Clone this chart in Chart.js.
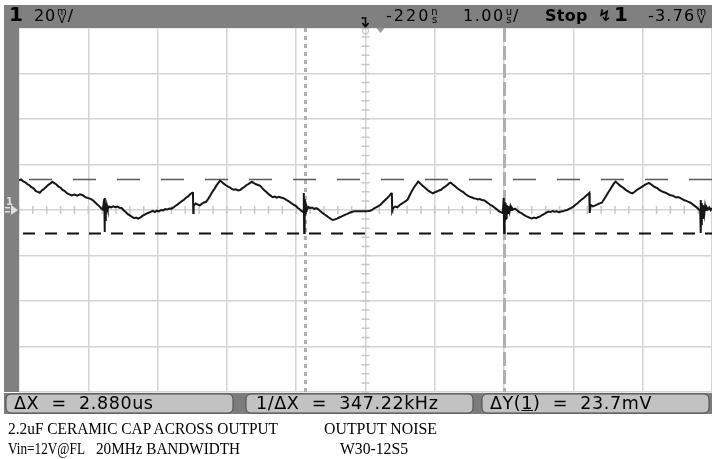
<!DOCTYPE html>
<html><head><meta charset="utf-8">
<script src="https://cdn.jsdelivr.net/npm/chart.js@4.4.0/dist/chart.umd.min.js"></script>
<style>
html,body{margin:0;padding:0;background:#fff;}
#wrap{position:relative;width:712px;height:459px;overflow:hidden;}
canvas{position:absolute;left:0;top:0;}
.t{position:absolute;white-space:nowrap;font-family:"DejaVu Sans",sans-serif;color:#000;}
.hd{top:7px;font-size:16px;line-height:18px;letter-spacing:0.8px;}
.stk{display:inline-flex;flex-direction:column;font-size:10px;line-height:8px;text-align:center;vertical-align:top;margin:1px 1px 0 1px;letter-spacing:0;}
.bx{top:394px;font-size:17.5px;line-height:19px;letter-spacing:0.6px;}
.note{font-family:"Liberation Serif",serif;font-size:17px;line-height:17px;transform-origin:0 0;}
</style></head>
<body><div id="wrap"><canvas id="c" width="712" height="459"></canvas>
<div class="t hd" style="left:9px;top:5px;font-size:20px;font-weight:bold;">1</div>
<div class="t hd" style="left:34px;">20<span class="stk"><span>m</span><span>V</span></span>/</div>
<div class="t hd" style="left:386px;letter-spacing:2px;">-220<span class="stk"><span>n</span><span>s</span></span></div>
<div class="t hd" style="left:463px;letter-spacing:1.5px;">1.00<span class="stk"><span>u</span><span>s</span></span>/</div>
<div class="t hd" style="left:545px;font-weight:bold;letter-spacing:0.3px;">Stop</div>
<div class="t hd" style="left:598px;font-weight:bold;">&#x21AF;</div>
<div class="t hd" style="left:614px;top:5px;font-size:20px;font-weight:bold;">1</div>
<div class="t hd" style="left:648px;letter-spacing:1.2px;">-3.76<span class="stk"><span>m</span><span>V</span></span></div>
<div class="t bx" style="left:14px;">&Delta;X&nbsp; = &nbsp;2.880us</div>
<div class="t bx" style="left:256px;">1/&Delta;X&nbsp; = &nbsp;347.22kHz</div>
<div class="t bx" style="left:490px;">&Delta;Y(<u>1</u>)&nbsp; = &nbsp;23.7mV</div>
<div class="t note" data-w="270" style="left:8px;top:420px;">2.2uF CERAMIC CAP ACROSS OUTPUT</div>
<div class="t note" data-w="113" style="left:324px;top:420px;">OUTPUT NOISE</div>
<div class="t note" data-w="77" style="left:8px;top:440px;">Vin=12V@FL</div>
<div class="t note" data-w="144" style="left:96px;top:440px;">20MHz BANDWIDTH</div>
<div class="t note" data-w="68" style="left:340px;top:440px;">W30-12S5</div>
</div>
<script>
// Time base: 1.00 us/div, 10 divisions; vertical: 20 mV/div, 8 divisions
const timeUs = [
-5.00,-4.97,-4.94,-4.91,-4.88,-4.85,-4.82,-4.79,-4.76,-4.73,-4.70,-4.67,-4.64,-4.61,-4.58,-4.55,-4.52,-4.49,-4.46,-4.43,-4.40,-4.37,-4.34,-4.31,-4.28,-4.24,-4.20,-4.16,-4.12,-4.08,-4.04,-4.00,-3.96,-3.93,-3.90,-3.87,-3.84,-3.81,-3.79,
-3.770,-3.765,-3.760,-3.755,-3.750,-3.745,-3.740,-3.735,-3.730,
-3.72,-3.70,-3.67,-3.64,-3.61,-3.58,-3.55,-3.52,-3.49,-3.46,-3.43,-3.40,-3.37,-3.34,-3.31,-3.28,-3.25,-3.22,-3.19,-3.16,-3.13,-3.10,-3.07,-3.04,-3.01,-2.98,-2.95,-2.92,-2.89,-2.86,-2.83,-2.80,-2.77,-2.74,-2.71,-2.68,-2.65,-2.62,-2.59,-2.56,-2.53,-2.50,-2.49,
-2.485,-2.48,-2.45,-2.42,-2.39,-2.36,-2.33,-2.30,-2.27,-2.24,-2.21,-2.18,-2.15,-2.12,-2.10,-2.08,-2.05,-2.02,-1.99,-1.96,-1.93,-1.90,-1.87,-1.84,-1.81,-1.78,-1.75,-1.72,-1.69,-1.66,-1.64,-1.61,-1.58,-1.55,-1.52,-1.49,-1.46,-1.43,-1.40,-1.37,-1.34,-1.31,-1.28,-1.25,-1.22,-1.19,-1.16,-1.13,-1.10,-1.07,-1.04,-1.01,-0.98,-0.95,-0.92,-0.90,
-0.890,-0.885,-0.880,-0.875,-0.870,-0.865,-0.860,-0.855,-0.850,
-0.84,-0.82,-0.80,-0.77,-0.74,-0.71,-0.68,-0.65,-0.62,-0.59,-0.56,-0.53,-0.50,-0.47,-0.44,-0.41,-0.38,-0.35,-0.32,-0.29,-0.26,-0.23,-0.20,-0.16,-0.12,-0.08,-0.04,0.00,0.04,0.07,0.10,0.13,0.16,0.19,0.22,0.25,0.28,0.31,0.34,0.37,0.38,
0.385,0.40,0.43,0.46,0.49,0.52,0.55,0.58,0.61,0.64,0.67,0.70,0.73,0.76,0.79,0.82,0.85,0.88,0.91,0.94,0.97,1.00,1.03,1.06,1.09,1.12,1.15,1.18,1.21,1.23,1.26,1.29,1.32,1.35,1.38,1.41,1.44,1.47,1.50,1.53,1.56,1.59,1.62,1.65,1.68,1.71,1.74,1.77,1.80,1.83,1.86,1.89,1.92,1.95,1.98,
1.995,2.000,2.005,2.010,2.015,2.020,2.025,2.030,2.035,2.040,2.050,2.060,2.070,2.080,2.090,2.100,2.110,
2.13,2.16,2.19,2.22,2.25,2.28,2.31,2.34,2.37,2.40,2.43,2.46,2.49,2.52,2.55,2.58,2.61,2.64,2.67,2.70,2.73,2.76,2.79,2.82,2.85,2.88,2.91,2.94,2.97,3.00,3.03,3.06,3.09,3.12,3.15,3.18,3.21,3.23,
3.235,3.25,3.28,3.31,3.34,3.37,3.41,3.44,3.47,3.50,3.53,3.56,3.59,3.61,3.64,3.67,3.70,3.73,3.76,3.79,3.82,3.85,3.88,3.91,3.94,3.97,4.00,4.03,4.06,4.09,4.12,4.15,4.18,4.21,4.24,4.27,4.30,4.33,4.36,4.39,4.42,4.45,4.48,4.51,4.54,4.57,4.60,4.63,4.66,4.69,4.72,4.75,4.78,4.81,4.83,
4.835,4.840,4.845,4.850,4.855,4.860,4.865,4.870,4.880,4.890,4.900,4.910,4.920,4.940,4.960,4.980,5.000
];
const traceMv = [
13.0,13.4,12.6,12.2,11.4,10.9,10.0,9.5,8.4,8.0,7.6,8.6,9.2,10.1,11.0,11.6,12.4,11.8,11.2,10.3,9.8,8.8,8.3,7.4,7.0,6.4,6.8,6.3,6.9,6.5,5.6,5.2,4.8,4.2,3.3,2.4,1.6,0.6,0.2,
4.8,-9.7,5.3,-4.4,3.1,-2.6,2.2,-0.9,1.8,
0.4,1.5,1.1,1.6,1.2,1.5,1.0,0.9,-0.1,-0.9,-1.8,-2.4,-3.0,-3.6,-3.3,-3.8,-3.4,-2.6,-2.1,-1.6,-1.2,-0.8,-0.4,-0.9,-0.3,-0.6,0.0,-0.2,0.4,0.2,0.7,0.6,1.1,1.9,2.5,3.2,3.9,4.5,5.4,6.0,6.9,7.6,7.9,
-1.3,1.8,2.9,2.4,2.0,2.8,3.3,3.6,4.9,6.4,8.0,9.3,10.8,12.0,12.8,12.5,11.7,11.0,10.4,10.0,9.3,8.9,9.1,8.6,8.8,9.5,10.1,10.9,11.4,12.0,12.4,11.8,11.3,11.0,10.6,9.6,8.7,7.9,7.0,6.3,5.6,5.9,5.4,5.8,5.5,5.3,4.8,4.2,3.7,3.0,2.4,1.9,1.0,0.3,-0.5,-0.9,
7.5,-10.1,4.8,-3.5,3.1,-1.8,2.2,-0.4,1.5,
0.4,1.3,0.8,1.1,0.5,0.8,0.3,-0.6,-1.3,-2.0,-2.6,-3.3,-3.9,-4.4,-4.1,-3.8,-3.3,-2.9,-2.5,-2.0,-1.7,-1.2,-0.9,-0.6,-0.6,-0.5,-0.6,-0.5,-0.4,-0.3,0.2,0.8,1.3,1.8,2.4,3.4,4.3,5.2,6.1,7.2,7.6,
-0.4,0.9,1.5,1.2,2.1,2.7,3.3,3.9,4.7,6.6,8.4,9.9,11.2,12.5,11.7,10.8,10.0,9.2,8.4,7.9,7.3,7.8,8.1,8.6,8.9,9.7,10.3,11.0,11.8,12.0,11.2,10.5,9.7,9.0,8.4,7.9,7.0,6.4,5.9,5.6,5.2,5.0,4.6,4.8,4.4,4.3,3.7,3.0,2.3,1.8,1.1,0.4,-0.4,-0.9,-1.3,
5.3,-10.1,3.5,-7.0,3.1,-4.4,2.6,-3.5,2.2,-2.2,1.8,-1.3,1.6,-0.4,1.3,0.0,1.1,
0.2,0.6,-0.2,-0.9,-1.4,-2.0,-2.6,-3.0,-3.4,-3.7,-3.3,-3.6,-3.2,-2.8,-2.2,-1.7,-1.2,-0.7,-0.9,-0.5,-0.8,-0.6,-1.0,-0.7,-0.6,-0.2,0.0,0.5,0.9,1.5,2.3,3.0,3.8,4.6,5.3,6.1,6.9,7.5,
-1.3,2.2,1.6,1.9,2.4,2.8,3.2,4.6,6.0,7.6,9.0,10.5,11.9,12.5,11.6,10.8,10.2,9.5,8.7,8.2,7.6,7.3,7.9,8.7,9.3,9.8,10.4,11.0,11.5,11.9,11.3,10.6,10.0,9.6,8.8,8.3,7.9,7.6,7.1,6.6,6.4,6.1,5.5,5.7,5.3,4.8,4.3,4.0,3.6,3.2,2.5,1.8,1.1,0.2,-0.4,
4.4,-10.1,3.1,-6.6,2.6,-3.5,2.2,-2.2,1.8,-1.3,1.5,-0.4,1.3,0.2,1.1,0.0,0.9
];
// Cursor settings (time cursors in us, voltage cursors in mV)
const timeCursorsUs = [-0.88, 2.00];
const voltCursorsMv = [13.6, -10.1];
const xRangeUs = [-5, 5];
const yRangeMv = [-80, 80];

// fit the serif annotations to their measured widths
document.querySelectorAll('.note').forEach(el => {
  const w = el.getBoundingClientRect().width;
  el.style.transform = 'scaleX(' + (parseFloat(el.dataset.w) / w) + ')';
});

const scopePlugin = {
  id: 'scope',
  beforeDatasetsDraw(chart) {
    const {ctx, chartArea: a, scales: {x, y}} = chart;
    ctx.save();
    const cx = x.getPixelForValue(0), cy = y.getPixelForValue(0);
    ctx.strokeStyle = '#c8c8c8'; ctx.lineWidth = 1.5;
    ctx.beginPath();
    for (let t = xRangeUs[0]; t <= xRangeUs[1] + 1e-9; t += 0.2) {
      const px = x.getPixelForValue(t);
      ctx.moveTo(px, cy - 4); ctx.lineTo(px, cy + 4);
    }
    for (let v = yRangeMv[0]; v <= yRangeMv[1] + 1e-9; v += 4) {
      const py = y.getPixelForValue(v);
      ctx.moveTo(cx - 4, py); ctx.lineTo(cx + 4, py);
    }
    ctx.stroke();
    ctx.strokeStyle = '#b0b0b0'; ctx.lineWidth = 3;
    const dashes = [[4, 4], [14, 4]];
    timeCursorsUs.forEach((t, i) => {
      const px = Math.round(x.getPixelForValue(t)) + 0.5;
      ctx.setLineDash(dashes[i]);
      ctx.beginPath(); ctx.moveTo(px, a.top); ctx.lineTo(px, a.bottom); ctx.stroke();
    });
    const vs = [{c: '#5a5a5a', w: 1.5, d: [23, 21], o: 34}, {c: '#111', w: 2, d: [12, 10], o: 18}];
    voltCursorsMv.forEach((v, i) => {
      const py = Math.round(y.getPixelForValue(v)) + 0.5;
      ctx.strokeStyle = vs[i].c; ctx.lineWidth = vs[i].w;
      ctx.setLineDash(vs[i].d); ctx.lineDashOffset = vs[i].o;
      ctx.beginPath(); ctx.moveTo(a.left, py); ctx.lineTo(a.right, py); ctx.stroke();
    });
    ctx.restore();
  },
  afterDraw(chart) {
    const {ctx, chartArea: a, scales: {x, y}} = chart;
    ctx.save();
    ctx.fillStyle = '#808080';
    ctx.fillRect(4, 5, 712 - 4, a.top - 5);
    ctx.fillRect(4, 5, a.left - 4, a.bottom - 5);
    ctx.fillStyle = '#7c7c7c';
    ctx.fillRect(4, a.bottom + 1, 712 - 4, 21);
    const boxes = [[6, 233], [246, 473], [482, 709]];
    boxes.forEach(([l, r]) => {
      ctx.beginPath();
      ctx.roundRect(l, a.bottom + 2, r - l, 19, 5);
      ctx.fillStyle = '#c2c2c2'; ctx.fill();
      ctx.strokeStyle = '#4a4a4a'; ctx.lineWidth = 1; ctx.stroke();
    });
    const gy = y.getPixelForValue(0);
    ctx.fillStyle = '#e0e0e0';
    ctx.font = 'bold 10px "DejaVu Sans"';
    ctx.fillText('1', 6, gy - 5);
    ctx.beginPath(); ctx.moveTo(11, gy - 5); ctx.lineTo(18, gy); ctx.lineTo(11, gy + 5); ctx.closePath(); ctx.fill();
    ctx.fillRect(5, gy - 3, 5, 1.5); ctx.fillRect(5, gy + 1, 5, 1.5);
    const tx = x.getPixelForValue(0);
    ctx.strokeStyle = '#000'; ctx.lineWidth = 1.5;
    ctx.beginPath(); ctx.moveTo(tx, 18); ctx.lineTo(tx, 27); ctx.moveTo(tx - 4, 18); ctx.lineTo(tx + 1, 18);
    ctx.moveTo(tx - 3, 23); ctx.lineTo(tx, 27); ctx.lineTo(tx + 3, 23); ctx.stroke();
    ctx.strokeStyle = '#b8b8b8'; ctx.lineWidth = 1;
    ctx.beginPath(); ctx.arc(tx, a.top + 3, 3, 0, Math.PI * 2); ctx.stroke();
    ctx.fillStyle = '#999';
    ctx.beginPath(); ctx.moveTo(tx + 11, a.top); ctx.lineTo(tx + 19, a.top); ctx.lineTo(tx + 15, a.top + 5); ctx.closePath(); ctx.fill();
    ctx.restore();
  }
};

new Chart(document.getElementById('c'), {
  type: 'scatter',
  data: {
    datasets: [{
      data: timeUs.map((t, i) => ({x: t, y: traceMv[i]})),
      showLine: true, borderColor: '#161616', borderWidth: 2,
      pointRadius: 0, tension: 0
    }]
  },
  options: {
    responsive: false, animation: false, events: [], devicePixelRatio: 1,
    layout: {padding: {left: 19, top: 28, right: 0, bottom: 67}},
    plugins: {legend: {display: false}, tooltip: {enabled: false}},
    scales: {
      x: {type: 'linear', min: xRangeUs[0], max: xRangeUs[1],
          ticks: {display: false, stepSize: 1},
          grid: {color: '#d4d4d4', lineWidth: 1.5, drawTicks: false},
          border: {display: false}, afterFit(s) { s.height = 0; }},
      y: {type: 'linear', min: yRangeMv[0], max: yRangeMv[1],
          ticks: {display: false, stepSize: 20},
          grid: {color: '#d4d4d4', lineWidth: 1.5, drawTicks: false},
          border: {display: false}, afterFit(s) { s.width = 0; }}
    }
  },
  plugins: [scopePlugin]
});
</script>
</body></html>
